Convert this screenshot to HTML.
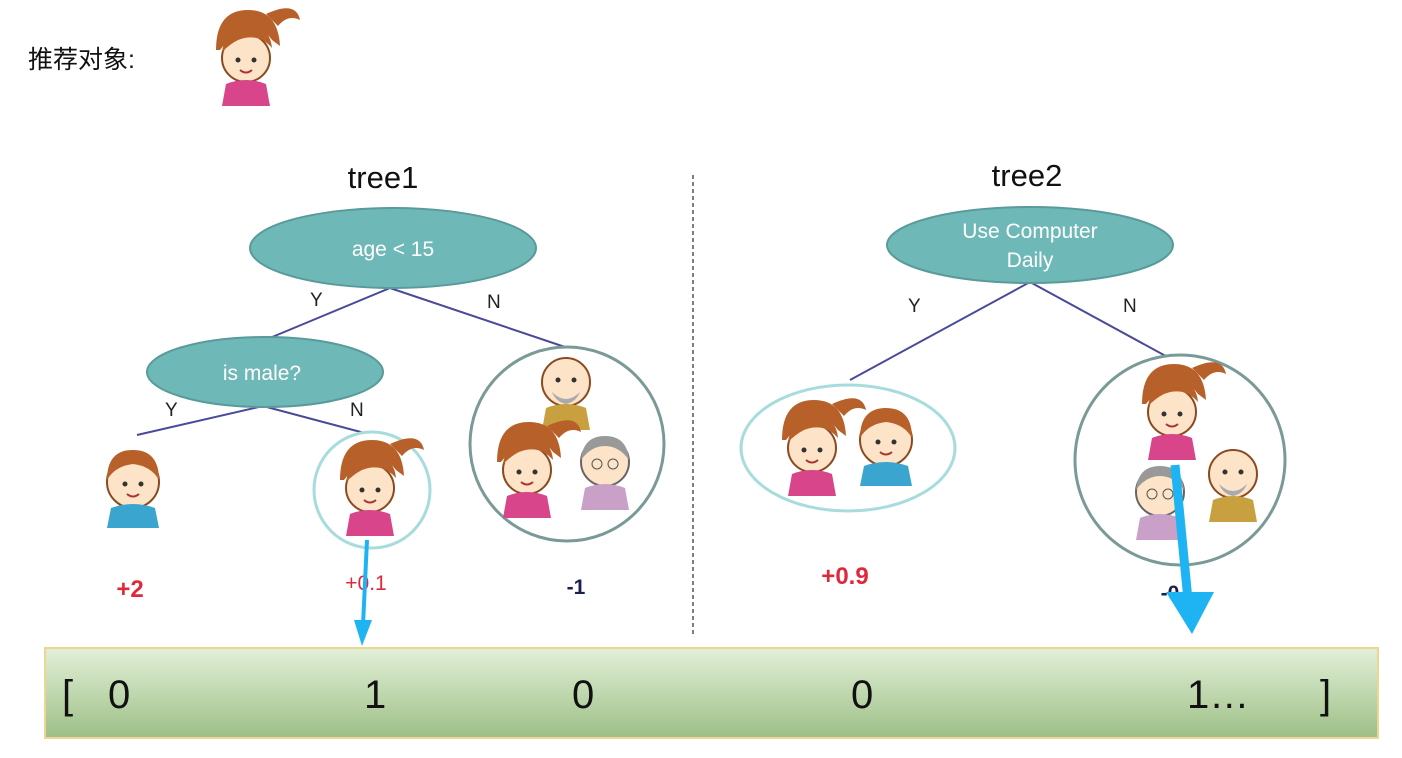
<!DOCTYPE html>
<html><head><meta charset="utf-8"><style>
body{margin:0;background:#fff;width:1402px;height:758px;overflow:hidden}
svg{display:block}
</style></head><body>
<svg width="1402" height="758" viewBox="0 0 1402 758" xmlns="http://www.w3.org/2000/svg" font-family="'Liberation Sans', 'Noto Sans CJK SC', sans-serif">
<defs>
<linearGradient id="bar" x1="0" y1="0" x2="0" y2="1"><stop offset="0" stop-color="#e2f0d8"/><stop offset="1" stop-color="#9dbf86"/></linearGradient>
<g id="girl"><path d="M-30,-8 q0,-40 32,-40 q30,0 32,36 l-8,-6 q-10,-14 -24,-12 q-16,6 -28,22z" fill="#b8602a"/><path d="M20,-44 q30,-14 34,6 q-12,-6 -22,6z" fill="#b8602a"/><circle cx="0" cy="0" r="24" fill="#fde3c8" stroke="#8a4a20" stroke-width="2"/><path d="M-24,-6 q4,-26 26,-26 q22,0 24,22 q-14,-16 -34,-8 q-8,4 -16,12z" fill="#b8602a"/><circle cx="-8" cy="2" r="2.5" fill="#333"/><circle cx="8" cy="2" r="2.5" fill="#333"/><path d="M-6,12 q6,5 12,0" stroke="#a33" fill="none" stroke-width="2"/><path d="M-20,26 q20,-8 40,0 l4,22 h-48z" fill="#d8458a"/></g>
<g id="boy"><circle cx="0" cy="0" r="26" fill="#fde3c8" stroke="#8a4a20" stroke-width="2"/><path d="M-26,-2 q0,-30 26,-30 q26,0 26,30 q-8,-14 -26,-16 q-18,2 -26,16z" fill="#b8602a"/><circle cx="-8" cy="2" r="2.5" fill="#333"/><circle cx="8" cy="2" r="2.5" fill="#333"/><path d="M-6,12 q6,5 12,0" stroke="#a33" fill="none" stroke-width="2"/><path d="M-22,26 q22,-8 44,0 l4,20 h-52z" fill="#3aa6d0"/></g>
<g id="old"><circle cx="0" cy="0" r="24" fill="#fde3c8" stroke="#8a4a20" stroke-width="2"/><path d="M-14,10 q14,14 28,0 q-4,10 -14,12 q-10,-2 -14,-12z" fill="#aaa"/><circle cx="-8" cy="-2" r="2.5" fill="#333"/><circle cx="8" cy="-2" r="2.5" fill="#333"/><path d="M-20,26 q20,-8 40,0 l4,22 h-48z" fill="#c9a040"/></g>
<g id="gran"><circle cx="0" cy="0" r="24" fill="#fde3c8" stroke="#666" stroke-width="2"/><path d="M-24,-2 q2,-24 24,-24 q22,0 24,24 q-10,-14 -24,-14 q-14,0 -24,14z" fill="#999"/><circle cx="-8" cy="2" r="5" fill="none" stroke="#555"/><circle cx="8" cy="2" r="5" fill="none" stroke="#555"/><path d="M-20,26 q20,-8 40,0 l4,22 h-48z" fill="#c9a0c8"/></g>
</defs>
<text x="28" y="68" font-size="25" fill="#111">推荐对象:</text>
<use href="#girl" x="246" y="58"/>
<text x="383" y="188" font-size="31" text-anchor="middle" fill="#111">tree1</text>
<text x="1027" y="186" font-size="31" text-anchor="middle" fill="#111">tree2</text>
<line x1="693" y1="175" x2="693" y2="635" stroke="#555" stroke-width="1.5" stroke-dasharray="4,3"/>
<g stroke="#4a4a9a" stroke-width="2">
<line x1="390" y1="288" x2="265" y2="340"/><line x1="390" y1="288" x2="568" y2="348"/>
<line x1="263" y1="406" x2="137" y2="435"/><line x1="263" y1="406" x2="372" y2="435"/>
<line x1="1030" y1="282" x2="850" y2="380"/><line x1="1030" y1="282" x2="1173" y2="360"/>
</g>
<g font-size="19" fill="#222">
<text x="310" y="306">Y</text><text x="487" y="308">N</text>
<text x="165" y="416">Y</text><text x="350" y="416">N</text>
<text x="908" y="312">Y</text><text x="1123" y="312">N</text>
</g>
<ellipse cx="393" cy="248" rx="143" ry="40" fill="#6fb8b8" stroke="#5a9a9a" stroke-width="2"/>
<text x="393" y="256" font-size="21" fill="#fff" text-anchor="middle">age &lt; 15</text>
<ellipse cx="265" cy="372" rx="118" ry="35" fill="#6fb8b8" stroke="#5a9a9a" stroke-width="2"/>
<text x="262" y="380" font-size="21" fill="#fff" text-anchor="middle">is male?</text>
<ellipse cx="1030" cy="245" rx="143" ry="38" fill="#6fb8b8" stroke="#5a9a9a" stroke-width="2"/>
<text x="1030" y="238" font-size="21" fill="#fff" text-anchor="middle">Use Computer</text>
<text x="1030" y="267" font-size="21" fill="#fff" text-anchor="middle">Daily</text>
<use href="#boy" x="133" y="482"/>
<circle cx="372" cy="490" r="58" fill="#fff" stroke="#a8dcdc" stroke-width="3"/>
<use href="#girl" x="370" y="488"/>
<circle cx="567" cy="444" r="97" fill="#fff" stroke="#7a9a98" stroke-width="3"/>
<use href="#old" x="566" y="382"/><use href="#girl" x="527" y="470"/><use href="#gran" x="605" y="462"/>
<ellipse cx="848" cy="448" rx="107" ry="63" fill="#fff" stroke="#a8dcdc" stroke-width="3"/>
<use href="#girl" x="812" y="448"/><use href="#boy" x="886" y="440"/>
<circle cx="1180" cy="460" r="105" fill="#fff" stroke="#7a9a98" stroke-width="3"/>
<use href="#girl" x="1172" y="412"/><use href="#gran" x="1160" y="492"/><use href="#old" x="1233" y="474"/>
<g font-weight="bold" font-size="24">
<text x="130" y="597" fill="#e0283a" text-anchor="middle">+2</text>
<text x="366" y="590" fill="#e0283a" text-anchor="middle" font-size="21" font-weight="normal">+0.1</text>
<text x="576" y="594" fill="#1a2050" text-anchor="middle" font-size="21">-1</text>
<text x="845" y="584" fill="#e0283a" text-anchor="middle">+0.9</text>
<text x="1170" y="600" fill="#1a2050" text-anchor="middle" font-size="21">-0</text>
</g>
<g fill="#1eb4f4">
<line x1="367" y1="540" x2="363" y2="625" stroke="#1eb4f4" stroke-width="4"/>
<polygon points="354,620 372,620 362,646"/>
<line x1="1175" y1="465" x2="1188" y2="600" stroke="#1eb4f4" stroke-width="9"/>
<polygon points="1166,592 1214,592 1192,634"/>
</g>
<rect x="45" y="648" width="1333" height="90" fill="url(#bar)" stroke="#efd690" stroke-width="2"/>
<g font-size="40" fill="#111">
<text x="62" y="708">[</text><text x="108" y="708">0</text><text x="364" y="708">1</text><text x="572" y="708">0</text><text x="851" y="708">0</text><text x="1187" y="708">1…</text><text x="1320" y="708">]</text>
</g>
</svg>
</body></html>
